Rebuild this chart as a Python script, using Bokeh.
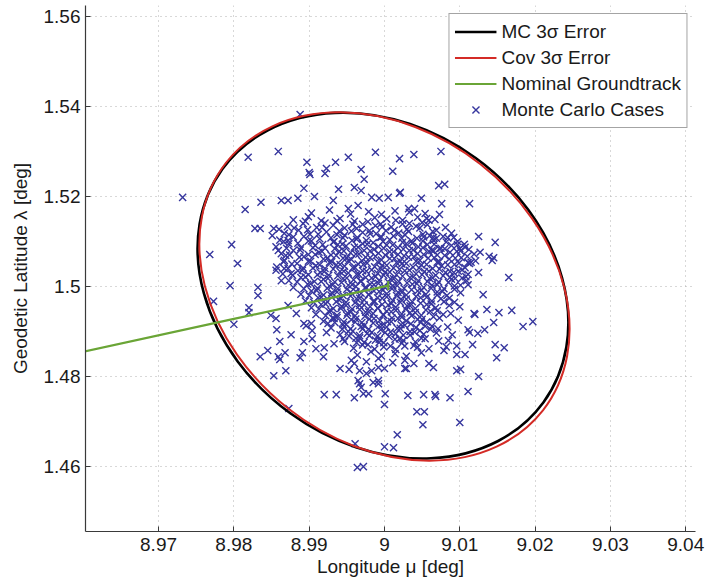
from bokeh.plotting import figure
from bokeh.models import Range1d, Legend, LegendItem, FixedTicker
from bokeh.embed import file_html
from bokeh.resources import INLINE
import math

FONT = "Liberation Sans"

# ---------------- data ----------------
x_ticks = [8.97, 8.98, 8.99, 9.0, 9.01, 9.02, 9.03, 9.04]
x_tick_labels = ["8.97", "8.98", "8.99", "9", "9.01", "9.02", "9.03", "9.04"]
y_ticks = [1.46, 1.48, 1.5, 1.52, 1.54, 1.56]
y_tick_labels = ["1.46", "1.48", "1.5", "1.52", "1.54", "1.56"]

# 3-sigma error ellipses: centre, full width (lon), full height (lat), tilt [rad]
mc_ell_lon, mc_ell_lat, mc_ell_w, mc_ell_h, mc_ell_angle = [8.9998], [1.5002], [0.0527], [0.0701], [-0.628]
cov_ell_lon, cov_ell_lat, cov_ell_w, cov_ell_h, cov_ell_angle = [9.0000], [1.5000], [0.0534], [0.0691], [-0.663]

# nominal groundtrack
track_lon = [8.9550, 8.9800, 9.0005]
track_lat = [1.4837, 1.4928, 1.5002]

# Monte Carlo cases, outer scattered points (lon, lat)
cases_upper_left = [
    (8.9888, 1.5382), (8.9819, 1.5287), (8.9859, 1.5300), (8.9897, 1.5276), (8.9900, 1.5253),
    (8.9901, 1.5249), (8.9923, 1.5262), (8.9921, 1.5251), (8.9935, 1.5276), (8.9952, 1.5287),
    (8.9969, 1.5260), (8.9973, 1.5238), (8.9988, 1.5298), (9.0011, 1.5256), (9.0020, 1.5284),
    (9.0039, 1.5293), (8.9732, 1.5198), (8.9815, 1.5171), (8.9836, 1.5187), (8.9893, 1.5218),
    (8.9939, 1.5216), (8.9960, 1.5220), (8.9969, 1.5213), (8.9828, 1.5129), (8.9835, 1.5129),
    (8.9797, 1.5093), (8.9768, 1.5071), (8.9805, 1.5051), (8.9795, 1.5002), (8.9851, 1.5113),
    (8.9863, 1.5191), (8.9872, 1.5191), (8.9885, 1.5196), (8.9907, 1.5200), (8.9932, 1.5191),
    (8.9952, 1.5173), (8.9965, 1.5180), (8.9983, 1.5198), (8.9993, 1.5196), (9.0005, 1.5198),
    (9.0020, 1.5207), (9.0049, 1.5196), (8.9853, 1.5129), (8.9860, 1.5127), (8.9872, 1.5102),
    (8.9859, 1.5080), (8.9869, 1.5069), (8.9856, 1.5036), (8.9867, 1.5040), (8.9876, 1.5029),
    (8.9863, 1.5013),
]
cases_upper_right = [
    (9.0075, 1.5300), (9.0072, 1.5224), (9.0080, 1.5227), (9.0021, 1.5209), (9.0076, 1.5184),
    (9.0113, 1.5184), (9.0073, 1.5160), (9.0059, 1.5147), (9.0040, 1.5173), (9.0032, 1.5173),
    (9.0092, 1.5109), (9.0125, 1.5111), (9.0147, 1.5098), (9.0100, 1.5084), (9.0107, 1.5087),
    (9.0127, 1.5076), (9.0139, 1.5067), (9.0145, 1.5064), (9.0143, 1.5058), (9.0165, 1.5020),
    (9.0111, 1.5053), (9.0113, 1.5051), (9.0125, 1.5031), (9.0065, 1.5109), (9.0063, 1.5080),
    (9.0056, 1.5151), (9.0069, 1.5107), (9.0073, 1.5084), (9.0092, 1.5031), (9.0087, 1.5020),
    (9.0109, 1.5013),
]
cases_lower_right = [
    (9.0131, 1.4982), (9.0136, 1.4949), (9.0152, 1.4942), (9.0169, 1.4947), (9.0119, 1.4940),
    (9.0120, 1.4938), (9.0145, 1.4920), (9.0133, 1.4904), (9.0111, 1.4904), (9.0113, 1.4898),
    (9.0124, 1.4896), (9.0184, 1.4911), (9.0197, 1.4922), (9.0117, 1.4871), (9.0147, 1.4871),
    (9.0159, 1.4864), (9.0149, 1.4842), (9.0107, 1.4849), (9.0096, 1.4849), (9.0101, 1.4816),
    (9.0096, 1.4813), (9.0125, 1.4800), (9.0111, 1.4767), (9.0087, 1.4753), (9.0067, 1.4760),
    (9.0068, 1.4756), (9.0052, 1.4760), (9.0031, 1.4758), (9.0001, 1.4762), (9.0000, 1.4738),
    (9.0043, 1.4722), (9.0053, 1.4722), (9.0051, 1.4693), (9.0100, 1.4698), (9.0017, 1.4671),
    (9.0000, 1.4644), (9.0012, 1.4642), (9.0027, 1.4818), (9.0029, 1.4818), (9.0039, 1.4829),
    (9.0065, 1.4820), (9.0059, 1.4829), (9.0000, 1.4818), (9.0085, 1.4880), (9.0096, 1.4868),
    (9.0079, 1.4858), (9.0090, 1.4893), (9.0084, 1.4910), (9.0098, 1.4925), (9.0088, 1.4940),
    (9.0100, 1.4955), (9.0082, 1.4866),
]
cases_lower_left = [
    (8.9773, 1.4967), (8.9800, 1.4916), (8.9820, 1.4953), (8.9820, 1.4942), (8.9832, 1.4998),
    (8.9832, 1.4980), (8.9849, 1.4936), (8.9856, 1.4929), (8.9857, 1.4904), (8.9861, 1.4878),
    (8.9876, 1.4893), (8.9845, 1.4858), (8.9835, 1.4844), (8.9868, 1.4853), (8.9859, 1.4844),
    (8.9861, 1.4838), (8.9853, 1.4802), (8.9869, 1.4813), (8.9891, 1.4853), (8.9888, 1.4842),
    (8.9893, 1.4878), (8.9904, 1.4884), (8.9909, 1.4862), (8.9919, 1.4844), (8.9941, 1.4818),
    (8.9953, 1.4816), (8.9920, 1.4760), (8.9936, 1.4760), (8.9960, 1.4753), (8.9967, 1.4784),
    (8.9972, 1.4762), (8.9979, 1.4762), (8.9961, 1.4651), (8.9964, 1.4598), (8.9972, 1.4600),
    (8.9873, 1.4729), (8.9985, 1.4787), (8.9992, 1.4784), (8.9983, 1.4813), (8.9992, 1.4820),
    (8.9976, 1.4807), (8.9925, 1.4918), (8.9933, 1.4929), (8.9923, 1.4898), (8.9904, 1.4902),
    (8.9883, 1.4940), (8.9872, 1.4958), (8.9896, 1.4913), (8.9956, 1.4836), (8.9960, 1.4829),
    (8.9967, 1.4813), (8.9965, 1.4791), (8.9969, 1.4776), (8.9992, 1.4791), (8.9893, 1.4918),
    (8.9903, 1.4918), (8.9920, 1.4864), (8.9933, 1.4873), (8.9945, 1.4884),
]

# Monte Carlo cases, dense core (row by row)
core_lon = [
    8.9903, 8.9927, 8.9955, 8.9979, 8.9996, 9.0014, 9.0033, 9.0054,
    8.9879, 8.9899, 8.9916, 8.9941, 8.9960, 8.9987, 9.0003, 9.0024, 9.0044, 9.0067,
    8.9871, 8.9892, 8.9910, 8.9932, 8.9947, 8.9971, 8.9988, 9.0009, 9.0024, 9.0042, 9.0057, 9.0081,
    8.9867, 8.9886, 8.9901, 8.9923, 8.9937, 8.9956, 8.9971, 8.9989, 9.0002, 9.0019, 9.0032, 9.0051, 9.0069, 9.0089,
    8.9861, 8.9879, 8.9899, 8.9914, 8.9933, 8.9945, 8.9963, 8.9976, 8.9994, 9.0007, 9.0023, 9.0036, 9.0052, 9.0065, 9.0084, 9.0097,
    8.9856, 8.9873, 8.9889, 8.9908, 8.9921, 8.9938, 8.9949, 8.9965, 8.9977, 8.9992, 9.0003, 9.0018, 9.0029, 9.0045, 9.0057, 9.0075, 9.0089, 9.0106,
    8.9863, 8.9879, 8.9899, 8.9913, 8.9929, 8.9940, 8.9955, 8.9966, 8.9981, 8.9992, 9.0007, 9.0018, 9.0033, 9.0044, 9.0059, 9.0070, 9.0087, 9.0101, 9.0119,
    8.9867, 8.9887, 8.9902, 8.9919, 8.9930, 8.9945, 8.9956, 8.9970, 8.9981, 8.9996, 9.0007, 9.0021, 9.0032, 9.0047, 9.0058, 9.0073, 9.0086, 9.0102, 9.0121,
    8.9857, 8.9877, 8.9892, 8.9909, 8.9921, 8.9936, 8.9947, 8.9961, 8.9972, 8.9987, 8.9997, 9.0012, 9.0023, 9.0038, 9.0049, 9.0064, 9.0076, 9.0093, 9.0107,
    8.9865, 8.9885, 8.9899, 8.9915, 8.9926, 8.9941, 8.9952, 8.9966, 8.9976, 8.9991, 9.0001, 9.0016, 9.0027, 9.0042, 9.0053, 9.0068, 9.0081, 9.0098, 9.0111,
    8.9873, 8.9889, 8.9907, 8.9919, 8.9934, 8.9945, 8.9959, 8.9969, 8.9983, 8.9993, 9.0008, 9.0019, 9.0034, 9.0045, 9.0060, 9.0072, 9.0089, 9.0103,
    8.9879, 8.9898, 8.9911, 8.9927, 8.9938, 8.9952, 8.9962, 8.9976, 8.9986, 9.0000, 9.0011, 9.0026, 9.0037, 9.0052, 9.0063, 9.0079, 9.0093, 9.0111,
    8.9889, 8.9903, 8.9919, 8.9930, 8.9945, 8.9955, 8.9969, 8.9979, 8.9993, 9.0003, 9.0018, 9.0029, 9.0044, 9.0055, 9.0070, 9.0083, 9.0101,
    8.9895, 8.9912, 8.9924, 8.9939, 8.9949, 8.9963, 8.9973, 8.9987, 8.9997, 9.0011, 9.0022, 9.0037, 9.0048, 9.0063, 9.0075, 9.0093,
    8.9903, 8.9916, 8.9932, 8.9943, 8.9957, 8.9967, 8.9981, 8.9991, 9.0005, 9.0015, 9.0030, 9.0041, 9.0056, 9.0068, 9.0086,
    8.9909, 8.9926, 8.9937, 8.9951, 8.9961, 8.9975, 8.9985, 8.9999, 9.0009, 9.0023, 9.0034, 9.0049, 9.0061, 9.0078,
    8.9919, 8.9931, 8.9946, 8.9956, 8.9970, 8.9980, 8.9994, 9.0004, 9.0018, 9.0029, 9.0044, 9.0056, 9.0073,
    8.9929, 8.9945, 8.9955, 8.9969, 8.9979, 8.9993, 9.0003, 9.0017, 9.0027, 9.0042, 9.0054, 9.0071,
    8.9941, 8.9952, 8.9967, 8.9977, 8.9991, 9.0001, 9.0015, 9.0025, 9.0040, 9.0052, 9.0069,
    8.9947, 8.9962, 8.9973, 8.9988, 8.9999, 9.0014, 9.0025, 9.0041, 9.0054, 9.0072,
    8.9959, 8.9971, 8.9987, 8.9999, 9.0015, 9.0027, 9.0044, 9.0059,
    8.9964, 8.9982, 8.9996, 9.0014, 9.0029, 9.0049,
    8.9976, 8.9992, 9.0011, 9.0027,
]
core_lat = [
    1.5163, 1.5170, 1.5161, 1.5166, 1.5160, 1.5168, 1.5165, 1.5162,
    1.5148, 1.5155, 1.5146, 1.5151, 1.5145, 1.5153, 1.5150, 1.5147, 1.5154, 1.5149,
    1.5133, 1.5140, 1.5131, 1.5136, 1.5130, 1.5138, 1.5135, 1.5132, 1.5139, 1.5134, 1.5137, 1.5131,
    1.5118, 1.5125, 1.5116, 1.5121, 1.5115, 1.5123, 1.5120, 1.5117, 1.5124, 1.5119, 1.5122, 1.5116, 1.5125, 1.5118,
    1.5103, 1.5110, 1.5101, 1.5106, 1.5100, 1.5108, 1.5105, 1.5102, 1.5109, 1.5104, 1.5107, 1.5101, 1.5110, 1.5103, 1.5108, 1.5100,
    1.5088, 1.5095, 1.5086, 1.5091, 1.5085, 1.5093, 1.5090, 1.5087, 1.5094, 1.5089, 1.5092, 1.5086, 1.5095, 1.5088, 1.5093, 1.5085, 1.5091, 1.5094,
    1.5073, 1.5080, 1.5071, 1.5076, 1.5070, 1.5078, 1.5075, 1.5072, 1.5079, 1.5074, 1.5077, 1.5071, 1.5080, 1.5073, 1.5078, 1.5070, 1.5076, 1.5079, 1.5072,
    1.5058, 1.5065, 1.5056, 1.5061, 1.5055, 1.5063, 1.5060, 1.5057, 1.5064, 1.5059, 1.5062, 1.5056, 1.5065, 1.5058, 1.5063, 1.5055, 1.5061, 1.5064, 1.5057,
    1.5043, 1.5050, 1.5041, 1.5046, 1.5040, 1.5048, 1.5045, 1.5042, 1.5049, 1.5044, 1.5047, 1.5041, 1.5050, 1.5043, 1.5048, 1.5040, 1.5046, 1.5049, 1.5042,
    1.5028, 1.5035, 1.5026, 1.5031, 1.5025, 1.5033, 1.5030, 1.5027, 1.5034, 1.5029, 1.5032, 1.5026, 1.5035, 1.5028, 1.5033, 1.5025, 1.5031, 1.5034, 1.5027,
    1.5013, 1.5020, 1.5011, 1.5016, 1.5010, 1.5018, 1.5015, 1.5012, 1.5019, 1.5014, 1.5017, 1.5011, 1.5020, 1.5013, 1.5018, 1.5010, 1.5016, 1.5019,
    1.4998, 1.5005, 1.4996, 1.5001, 1.4995, 1.5003, 1.5000, 1.4997, 1.5004, 1.4999, 1.5002, 1.4996, 1.5005, 1.4998, 1.5003, 1.4995, 1.5001, 1.5004,
    1.4983, 1.4990, 1.4981, 1.4986, 1.4980, 1.4988, 1.4985, 1.4982, 1.4989, 1.4984, 1.4987, 1.4981, 1.4990, 1.4983, 1.4988, 1.4980, 1.4986,
    1.4968, 1.4975, 1.4966, 1.4971, 1.4965, 1.4973, 1.4970, 1.4967, 1.4974, 1.4969, 1.4972, 1.4966, 1.4975, 1.4968, 1.4973, 1.4965,
    1.4953, 1.4960, 1.4951, 1.4956, 1.4950, 1.4958, 1.4955, 1.4952, 1.4959, 1.4954, 1.4957, 1.4951, 1.4960, 1.4953, 1.4958,
    1.4938, 1.4945, 1.4936, 1.4941, 1.4935, 1.4943, 1.4940, 1.4937, 1.4944, 1.4939, 1.4942, 1.4936, 1.4945, 1.4938,
    1.4923, 1.4930, 1.4921, 1.4926, 1.4920, 1.4928, 1.4925, 1.4922, 1.4929, 1.4924, 1.4927, 1.4921, 1.4930,
    1.4908, 1.4915, 1.4906, 1.4911, 1.4905, 1.4913, 1.4910, 1.4907, 1.4914, 1.4909, 1.4912, 1.4906,
    1.4893, 1.4900, 1.4891, 1.4896, 1.4890, 1.4898, 1.4895, 1.4892, 1.4899, 1.4894, 1.4897,
    1.4878, 1.4885, 1.4876, 1.4881, 1.4875, 1.4883, 1.4880, 1.4877, 1.4884, 1.4879,
    1.4863, 1.4870, 1.4861, 1.4866, 1.4860, 1.4868, 1.4865, 1.4862,
    1.4848, 1.4855, 1.4846, 1.4851, 1.4845, 1.4853,
    1.4833, 1.4840, 1.4831, 1.4836,
]

# Monte Carlo cases, inner dense core (rows in between)
core2_lon = [
    8.9895, 8.9921, 8.9937, 8.9958, 8.9978, 8.9995, 9.0015, 9.0033, 9.0050,
    8.9880, 8.9898, 8.9917, 8.9940, 8.9963, 8.9980, 8.9997, 9.0013, 9.0030, 9.0047, 9.0064,
    8.9873, 8.9893, 8.9912, 8.9929, 8.9947, 8.9964, 8.9981, 8.9996, 9.0012, 9.0027, 9.0043, 9.0060, 9.0078,
    8.9866, 8.9885, 8.9903, 8.9918, 8.9932, 8.9944, 8.9957, 8.9971, 8.9985, 8.9998, 9.0011, 9.0024, 9.0037, 9.0051, 9.0066, 9.0082, 9.0097,
    8.9870, 8.9888, 8.9905, 8.9917, 8.9934, 8.9946, 8.9960, 8.9973, 8.9986, 8.9999, 9.0012, 9.0025, 9.0038, 9.0051, 9.0065, 9.0080, 9.0096, 9.0112,
    8.9874, 8.9893, 8.9908, 8.9924, 8.9936, 8.9950, 8.9962, 8.9975, 8.9988, 9.0001, 9.0013, 9.0026, 9.0039, 9.0052, 9.0066, 9.0080, 9.0094, 9.0110,
    8.9866, 8.9884, 8.9899, 8.9914, 8.9927, 8.9941, 8.9952, 8.9965, 8.9977, 8.9991, 9.0003, 9.0016, 9.0029, 9.0042, 9.0056, 9.0070, 9.0084, 9.0099, 9.0115,
    8.9872, 8.9891, 8.9905, 8.9920, 8.9932, 8.9946, 8.9958, 8.9971, 8.9983, 8.9995, 9.0007, 9.0020, 9.0033, 9.0046, 9.0059, 9.0073, 9.0087, 9.0103,
    8.9878, 8.9895, 8.9911, 8.9925, 8.9938, 8.9950, 8.9963, 8.9975, 8.9988, 8.9999, 9.0012, 9.0024, 9.0038, 9.0050, 9.0064, 9.0078, 9.0094, 9.0108,
    8.9884, 8.9902, 8.9916, 8.9931, 8.9943, 8.9957, 8.9968, 8.9981, 8.9992, 9.0005, 9.0017, 9.0030, 9.0043, 9.0057, 9.0070, 9.0085, 9.0101,
    8.9893, 8.9910, 8.9924, 8.9937, 8.9950, 8.9962, 8.9974, 8.9986, 8.9998, 9.0010, 9.0023, 9.0036, 9.0049, 9.0062, 9.0077, 9.0093,
    8.9900, 8.9916, 8.9929, 8.9942, 8.9955, 8.9967, 8.9979, 8.9991, 9.0003, 9.0016, 9.0029, 9.0042, 9.0056, 9.0070, 9.0086,
    8.9906, 8.9922, 8.9936, 8.9949, 8.9961, 8.9973, 8.9985, 8.9997, 9.0009, 9.0021, 9.0034, 9.0048, 9.0062, 9.0079,
    8.9913, 8.9929, 8.9942, 8.9955, 8.9967, 8.9979, 8.9991, 9.0003, 9.0015, 9.0028, 9.0041, 9.0055, 9.0070,
    8.9922, 8.9937, 8.9950, 8.9962, 8.9974, 8.9986, 8.9998, 9.0010, 9.0023, 9.0036, 9.0050, 9.0065,
    8.9934, 8.9949, 8.9961, 8.9973, 8.9985, 8.9997, 9.0009, 9.0022, 9.0035, 9.0048, 9.0063,
    8.9944, 8.9958, 8.9971, 8.9983, 8.9995, 9.0008, 9.0021, 9.0034, 9.0047, 9.0061,
    8.9953, 8.9967, 8.9980, 8.9993, 9.0006, 9.0020, 9.0034, 9.0049,
    8.9963, 8.9978, 8.9993, 9.0008, 9.0023, 9.0039,
]
core2_lat = [
    1.5145, 1.5141, 1.5146, 1.5138, 1.5144, 1.5139, 1.5147, 1.5140, 1.5142,
    1.5130, 1.5126, 1.5131, 1.5123, 1.5129, 1.5124, 1.5132, 1.5125, 1.5127, 1.5130, 1.5122,
    1.5115, 1.5111, 1.5116, 1.5108, 1.5114, 1.5109, 1.5117, 1.5110, 1.5112, 1.5115, 1.5107, 1.5113, 1.5111,
    1.5100, 1.5096, 1.5101, 1.5093, 1.5099, 1.5094, 1.5102, 1.5095, 1.5097, 1.5100, 1.5092, 1.5098, 1.5096, 1.5101, 1.5094, 1.5099, 1.5093,
    1.5085, 1.5081, 1.5086, 1.5078, 1.5084, 1.5079, 1.5087, 1.5080, 1.5082, 1.5085, 1.5077, 1.5083, 1.5081, 1.5086, 1.5079, 1.5084, 1.5078, 1.5082,
    1.5070, 1.5066, 1.5071, 1.5063, 1.5069, 1.5064, 1.5072, 1.5065, 1.5067, 1.5070, 1.5062, 1.5068, 1.5066, 1.5071, 1.5064, 1.5069, 1.5063, 1.5067,
    1.5055, 1.5051, 1.5056, 1.5048, 1.5054, 1.5049, 1.5057, 1.5050, 1.5052, 1.5055, 1.5047, 1.5053, 1.5051, 1.5056, 1.5049, 1.5054, 1.5048, 1.5052, 1.5054,
    1.5040, 1.5036, 1.5041, 1.5033, 1.5039, 1.5034, 1.5042, 1.5035, 1.5037, 1.5040, 1.5032, 1.5038, 1.5036, 1.5041, 1.5034, 1.5039, 1.5033, 1.5037,
    1.5025, 1.5021, 1.5026, 1.5018, 1.5024, 1.5019, 1.5027, 1.5020, 1.5022, 1.5025, 1.5017, 1.5023, 1.5021, 1.5026, 1.5019, 1.5024, 1.5018, 1.5022,
    1.5010, 1.5006, 1.5011, 1.5003, 1.5009, 1.5004, 1.5012, 1.5005, 1.5007, 1.5010, 1.5002, 1.5008, 1.5006, 1.5011, 1.5004, 1.5009, 1.5003,
    1.4995, 1.4991, 1.4996, 1.4988, 1.4994, 1.4989, 1.4997, 1.4990, 1.4992, 1.4995, 1.4987, 1.4993, 1.4991, 1.4996, 1.4989, 1.4994,
    1.4980, 1.4976, 1.4981, 1.4973, 1.4979, 1.4974, 1.4982, 1.4975, 1.4977, 1.4980, 1.4972, 1.4978, 1.4976, 1.4981, 1.4974,
    1.4965, 1.4961, 1.4966, 1.4958, 1.4964, 1.4959, 1.4967, 1.4960, 1.4962, 1.4965, 1.4957, 1.4963, 1.4961, 1.4966,
    1.4950, 1.4946, 1.4951, 1.4943, 1.4949, 1.4944, 1.4952, 1.4945, 1.4947, 1.4950, 1.4942, 1.4948, 1.4946,
    1.4935, 1.4931, 1.4936, 1.4928, 1.4934, 1.4929, 1.4937, 1.4930, 1.4932, 1.4935, 1.4927, 1.4933,
    1.4920, 1.4916, 1.4921, 1.4913, 1.4919, 1.4914, 1.4922, 1.4915, 1.4917, 1.4920, 1.4912,
    1.4905, 1.4901, 1.4906, 1.4898, 1.4904, 1.4899, 1.4907, 1.4900, 1.4902, 1.4905,
    1.4890, 1.4886, 1.4891, 1.4883, 1.4889, 1.4884, 1.4892, 1.4885,
    1.4875, 1.4871, 1.4876, 1.4868, 1.4874, 1.4869,
]

outer = cases_upper_left + cases_upper_right + cases_lower_right + cases_lower_left
mc_lon = [c[0] for c in outer] + core_lon + core2_lon
mc_lat = [c[1] for c in outer] + core_lat + core2_lat

# ---------------- figure ----------------
p = figure(width=707, height=584,
           x_range=Range1d(8.9603, 9.0413), y_range=Range1d(1.4456, 1.5624),
           output_backend="svg", toolbar_location=None,
           min_border_left=85, min_border_right=12, min_border_top=5, min_border_bottom=53)
p.outline_line_color = None
p.background_fill_color = "white"
p.border_fill_color = "white"

p.xaxis.ticker = FixedTicker(ticks=x_ticks)
p.yaxis.ticker = FixedTicker(ticks=y_ticks)
p.xaxis.major_label_overrides = dict(zip(x_ticks, x_tick_labels))
p.yaxis.major_label_overrides = dict(zip(y_ticks, y_tick_labels))

for ax in (p.xaxis, p.yaxis):
    ax.axis_line_color = "#3a3a3a"
    ax.axis_line_width = 1.2
    ax.major_tick_line_color = "#3a3a3a"
    ax.major_tick_in = 5
    ax.major_tick_out = 0
    ax.minor_tick_line_color = None
    ax.major_label_text_font = FONT
    ax.major_label_text_font_size = "19px"
    ax.major_label_text_color = "#1a1a1a"
    ax.axis_label_text_font = FONT
    ax.axis_label_text_font_size = "19px"
    ax.axis_label_text_font_style = "normal"
    ax.axis_label_text_color = "#1a1a1a"

p.xaxis.axis_label = "Longitude μ [deg]"
p.yaxis.axis_label = "Geodetic Latitude λ [deg]"
p.xaxis.major_label_standoff = 6
p.yaxis.major_label_standoff = 5
p.xaxis.axis_label_standoff = 2
p.yaxis.axis_label_standoff = 10

p.grid.grid_line_color = "#b0b0b0"
p.grid.grid_line_dash = "1 4"
p.grid.grid_line_width = 1

# Monte Carlo cases
cases = p.scatter(mc_lon, mc_lat, marker="x", size=10, line_color="#36369e", line_width=1.4)

# ellipses
p.ellipse(x=mc_ell_lon, y=mc_ell_lat, width=mc_ell_w, height=mc_ell_h, angle=mc_ell_angle,
          fill_color=None, line_color="black", line_width=2.6)
p.ellipse(x=cov_ell_lon, y=cov_ell_lat, width=cov_ell_w, height=cov_ell_h, angle=cov_ell_angle,
          fill_color=None, line_color="#d42b26", line_width=2.0)

# groundtrack
track = p.line(track_lon, track_lat, line_color="#6aa536", line_width=2.2)
p.scatter([track_lon[-1]], [track_lat[-1]], marker="dash", angle=math.pi / 2, size=9,
          line_color="#6aa536", line_width=2.2)

# legend proxies (placed outside the visible range)
mc_proxy = p.line([8.90, 8.91], [1.40, 1.40], line_color="black", line_width=2.6)
cov_proxy = p.line([8.90, 8.91], [1.40, 1.40], line_color="#d42b26", line_width=2.0)

legend = Legend(items=[
    LegendItem(label="MC 3σ Error", renderers=[mc_proxy]),
    LegendItem(label="Cov 3σ Error", renderers=[cov_proxy]),
    LegendItem(label="Nominal Groundtrack", renderers=[track]),
    LegendItem(label="Monte Carlo Cases", renderers=[cases]),
], location="top_right")
legend.label_text_font = FONT
legend.label_text_font_size = "19px"
legend.label_text_color = "#1a1a1a"
legend.glyph_width = 42
legend.glyph_height = 25
legend.label_height = 25
legend.label_standoff = 5
legend.spacing = 1
legend.padding = 5
legend.margin = 8
legend.border_line_color = "#4a4a4a"
legend.border_line_width = 1
legend.background_fill_color = "white"
legend.background_fill_alpha = 1.0
p.add_layout(legend)

open("out.html", "w").write(file_html(p, INLINE))
